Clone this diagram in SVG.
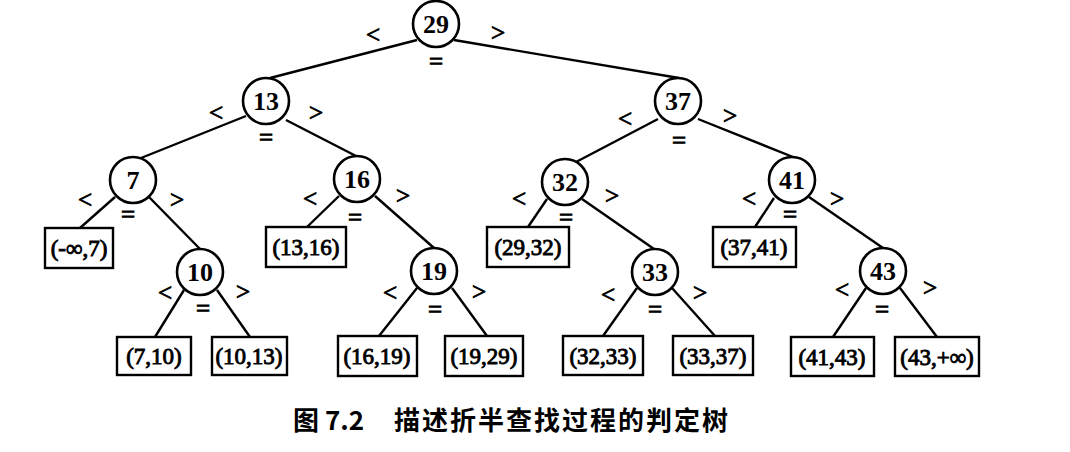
<svg xmlns="http://www.w3.org/2000/svg" width="1070" height="452" viewBox="0 0 1070 452">
<style>
.c{fill:#fff;stroke:#000;stroke-width:2.6}
.b{fill:#fff;stroke:#000;stroke-width:2.4}
.t{font-family:"Times New Roman","Liberation Serif","DejaVu Serif",serif;font-size:23px;text-anchor:middle;fill:#000;stroke:#000;stroke-width:0.9}
.n{font-family:"Times New Roman","Liberation Serif","DejaVu Serif",serif;font-size:26px;font-weight:bold;text-anchor:middle;fill:#000}
.s{font-family:"Times New Roman","Liberation Serif","DejaVu Serif",serif;font-size:25px;text-anchor:middle;fill:#000;stroke:#000;stroke-width:0.9}
.e line{stroke:#000;stroke-width:2.4}
.cap{font-family:"Noto Sans CJK SC","Liberation Sans",sans-serif;font-size:26px;font-weight:bold;fill:#000}
</style>
<rect width="1070" height="452" fill="#fff"/>
<g id="connectors" class="e">
<line x1="417" y1="40" x2="270" y2="78"/>
<line x1="454" y1="40" x2="679" y2="78"/>
<line x1="246" y1="116" x2="141" y2="158"/>
<line x1="286" y1="120" x2="356" y2="156"/>
<line x1="658" y1="119" x2="576" y2="162"/>
<line x1="698" y1="119" x2="793" y2="157"/>
<line x1="115" y1="197" x2="80" y2="228"/>
<line x1="149" y1="197" x2="200" y2="249"/>
<line x1="184" y1="290" x2="155" y2="337"/>
<line x1="217" y1="290" x2="250" y2="337"/>
<line x1="339" y1="196" x2="307" y2="227"/>
<line x1="375" y1="196" x2="434" y2="248"/>
<line x1="417" y1="288" x2="379" y2="336"/>
<line x1="452" y1="288" x2="487" y2="336"/>
<line x1="547" y1="199" x2="528" y2="227"/>
<line x1="582" y1="199" x2="654" y2="249"/>
<line x1="774" y1="198" x2="755" y2="227"/>
<line x1="809" y1="197" x2="883" y2="248"/>
<line x1="637" y1="288" x2="603" y2="336"/>
<line x1="672" y1="288" x2="715" y2="336"/>
<line x1="866" y1="288" x2="833" y2="337"/>
<line x1="900" y1="288" x2="937" y2="337"/>
</g>
<g id="n29"><circle class="c" cx="436" cy="24" r="23"/><text class="n" x="436" y="33">29</text><text class="s" x="373" y="43">&lt;</text><text class="s" x="498" y="41">&gt;</text><text class="s" x="436" y="70">=</text></g>
<g id="n13"><circle class="c" cx="266" cy="101" r="23"/><text class="n" x="266" y="110">13</text><text class="s" x="216" y="121">&lt;</text><text class="s" x="316" y="121">&gt;</text><text class="s" x="266" y="146">=</text></g>
<g id="n37"><circle class="c" cx="678" cy="101" r="23"/><text class="n" x="678" y="110">37</text><text class="s" x="625" y="127">&lt;</text><text class="s" x="730" y="124">&gt;</text><text class="s" x="679" y="149">=</text></g>
<g id="n7"><circle class="c" cx="133" cy="180" r="23"/><text class="n" x="133" y="189">7</text><text class="s" x="85" y="208">&lt;</text><text class="s" x="177" y="208">&gt;</text><text class="s" x="128" y="223">=</text></g>
<g id="n16"><circle class="c" cx="357" cy="179" r="23"/><text class="n" x="357" y="188">16</text><text class="s" x="310" y="207">&lt;</text><text class="s" x="403" y="204">&gt;</text><text class="s" x="355" y="226">=</text></g>
<g id="n32"><circle class="c" cx="565" cy="182" r="23"/><text class="n" x="565" y="191">32</text><text class="s" x="519" y="207">&lt;</text><text class="s" x="612" y="204">&gt;</text><text class="s" x="566" y="226">=</text></g>
<g id="n41"><circle class="c" cx="792" cy="180" r="23"/><text class="n" x="792" y="189">41</text><text class="s" x="749" y="207">&lt;</text><text class="s" x="837" y="207">&gt;</text><text class="s" x="790" y="223">=</text></g>
<g id="n10"><circle class="c" cx="200" cy="272" r="23"/><text class="n" x="200" y="281">10</text><text class="s" x="165" y="301">&lt;</text><text class="s" x="243" y="300">&gt;</text><text class="s" x="203" y="317">=</text></g>
<g id="n19"><circle class="c" cx="434" cy="271" r="23"/><text class="n" x="434" y="280">19</text><text class="s" x="390" y="301">&lt;</text><text class="s" x="479" y="300">&gt;</text><text class="s" x="435" y="318">=</text></g>
<g id="n33"><circle class="c" cx="655" cy="272" r="23"/><text class="n" x="655" y="281">33</text><text class="s" x="608" y="303">&lt;</text><text class="s" x="700" y="301">&gt;</text><text class="s" x="655" y="318">=</text></g>
<g id="n43"><circle class="c" cx="883" cy="271" r="23"/><text class="n" x="883" y="280">43</text><text class="s" x="842" y="298">&lt;</text><text class="s" x="930" y="296">&gt;</text><text class="s" x="882" y="318">=</text></g>
<g id="b-inf7"><rect class="b" x="45" y="228" width="68" height="40"/><text class="t" x="79" y="256">(-∞,7)</text></g>
<g id="b13-16"><rect class="b" x="266" y="227" width="80" height="40"/><text class="t" x="306" y="255">(13,16)</text></g>
<g id="b29-32"><rect class="b" x="487" y="227" width="82" height="40"/><text class="t" x="528" y="255">(29,32)</text></g>
<g id="b37-41"><rect class="b" x="713" y="227" width="83" height="40"/><text class="t" x="754" y="255">(37,41)</text></g>
<g id="b7-10"><rect class="b" x="117" y="337" width="74" height="38"/><text class="t" x="154" y="364">(7,10)</text></g>
<g id="b10-13"><rect class="b" x="212" y="337" width="75" height="38"/><text class="t" x="249" y="364">(10,13)</text></g>
<g id="b16-19"><rect class="b" x="338" y="336" width="79" height="40"/><text class="t" x="377" y="364">(16,19)</text></g>
<g id="b19-29"><rect class="b" x="445" y="336" width="78" height="40"/><text class="t" x="484" y="364">(19,29)</text></g>
<g id="b32-33"><rect class="b" x="563" y="336" width="80" height="39"/><text class="t" x="603" y="364">(32,33)</text></g>
<g id="b33-37"><rect class="b" x="673" y="336" width="80" height="39"/><text class="t" x="713" y="364">(33,37)</text></g>
<g id="b41-43"><rect class="b" x="791" y="337" width="83" height="39"/><text class="t" x="832" y="365">(41,43)</text></g>
<g id="b43-inf"><rect class="b" x="895" y="337" width="84" height="39"/><text class="t" x="937" y="365">(43,+∞)</text></g>
<g id="caption"><text class="cap" x="293" y="430">图 7.2</text><text class="cap" x="394" y="430" letter-spacing="2">描述折半查找过程的判定树</text></g>
</svg>
